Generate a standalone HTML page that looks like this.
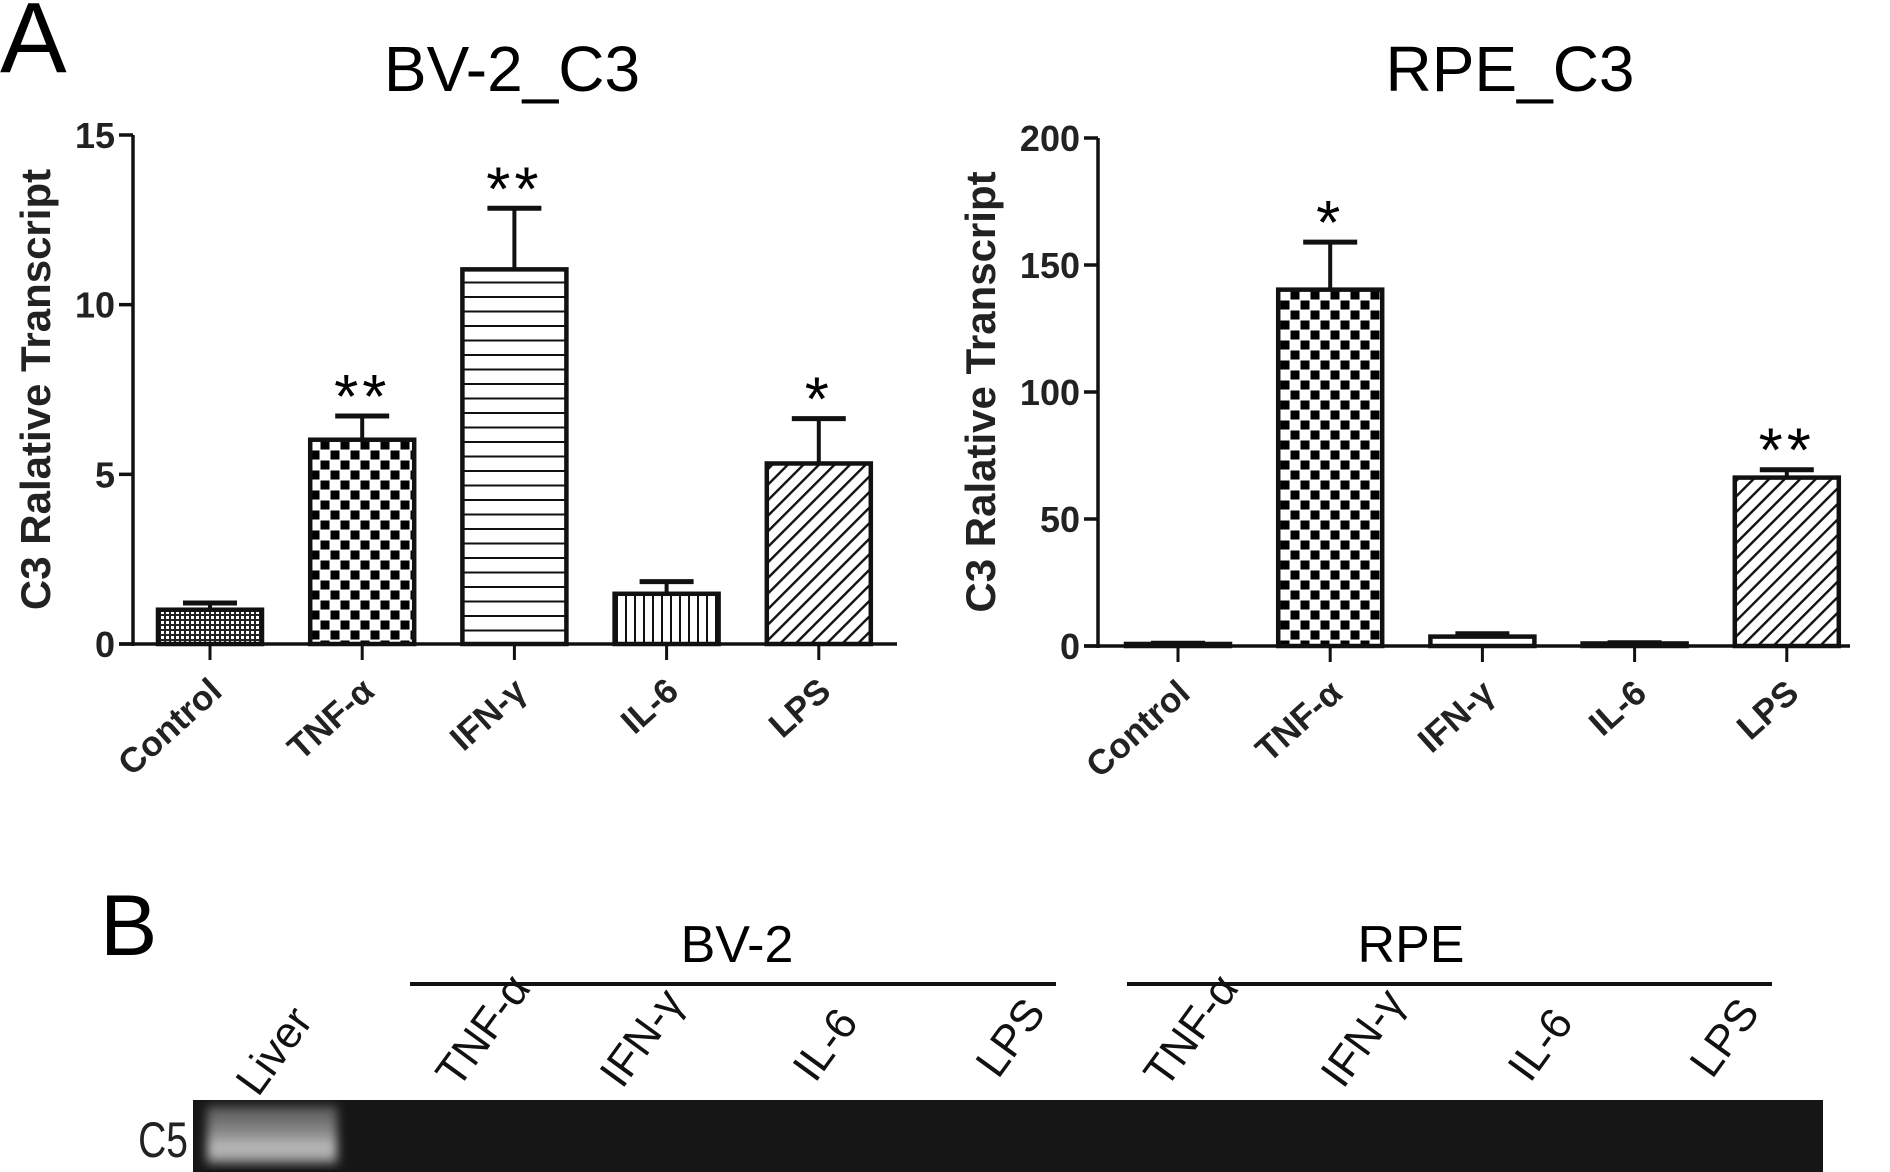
<!DOCTYPE html>
<html><head><meta charset="utf-8"><style>
html,body{margin:0;padding:0;background:#fff;}
svg{display:block;font-family:"Liberation Sans",Arial,sans-serif;}
</style></head><body>
<svg id="fig" width="1890" height="1172" viewBox="0 0 1890 1172" xmlns="http://www.w3.org/2000/svg">
<defs>
<pattern id="pFine" width="5" height="5" patternUnits="userSpaceOnUse"><rect width="5" height="5" fill="#222"/><rect x="1" y="1" width="3" height="3" fill="#fff"/></pattern>
<pattern id="pCheck" width="20" height="20" patternUnits="userSpaceOnUse"><rect width="20" height="20" fill="#fff"/><rect x="0.5" y="0.5" width="9" height="9" fill="#000"/><rect x="10.5" y="10.5" width="9" height="9" fill="#000"/></pattern>
<pattern id="pHoriz" width="10" height="14.5" patternUnits="userSpaceOnUse"><rect width="10" height="14.5" fill="#fff"/><rect y="6" width="10" height="2" fill="#111"/></pattern>
<pattern id="pVert" width="9" height="10" patternUnits="userSpaceOnUse"><rect width="9" height="10" fill="#fff"/><rect x="4" width="2" height="10" fill="#111"/></pattern>
<pattern id="pDiag" width="11" height="11" patternUnits="userSpaceOnUse" patternTransform="rotate(45)"><rect width="11" height="11" fill="#fff"/><rect x="4.5" width="2.4" height="11" fill="#111"/></pattern>
<linearGradient id="band" x1="0" y1="0" x2="0" y2="1"><stop offset="0" stop-color="#555"/><stop offset="0.45" stop-color="#888"/><stop offset="0.75" stop-color="#c0c0c0"/><stop offset="1" stop-color="#777"/></linearGradient>
<filter id="blur"><feGaussianBlur stdDeviation="5"/></filter>
</defs>
<text x="0" y="72" font-size="100">A</text>
<g id="chart1"></g>
<g id="chart2"></g>
<g>
<text x="100" y="955" font-size="86">B</text>
<text x="737" y="962" font-size="52" text-anchor="middle">BV-2</text>
<text x="1411" y="962" font-size="52" text-anchor="middle">RPE</text>
<rect x="410" y="982" width="646" height="4" fill="#111"/>
<rect x="1127" y="982" width="645" height="4" fill="#111"/>
<g id="lanes"></g>
<rect x="193" y="1100" width="1630" height="72" fill="#161616"/>
<rect x="207" y="1106" width="130" height="58" fill="url(#band)" filter="url(#blur)"/>
<text x="188" y="1157" font-size="50" text-anchor="end" fill="#222" transform="translate(188,1157) scale(0.78,1) translate(-188,-1157)">C5</text>
</g>
</svg>
<script>
const NS="http://www.w3.org/2000/svg";
const categories=["Control","TNF-α","IFN-γ","IL-6","LPS"];
const bv2Values=[1.01,6.02,11.04,1.48,5.32];
const bv2Errors=[0.2,0.7,1.8,0.36,1.32];
const bv2Stars=["","**","**","","*"];
const bv2Ticks=[0,5,10,15];
const rpeValues=[0.8,140.3,3.7,1.0,66.3];
const rpeErrors=[0.3,18.7,1.1,0.3,3.1];
const rpeStars=["","*","","","**"];
const rpeTicks=[0,50,100,150,200];
const lanes=["Liver","TNF-α","IFN-γ","IL-6","LPS","TNF-α","IFN-γ","IL-6","LPS"];
const fills=["url(#pFine)","url(#pCheck)","url(#pHoriz)","url(#pVert)","url(#pDiag)"];

function mk(tag,attrs,parent){const e=document.createElementNS(NS,tag);for(const k in attrs)e.setAttribute(k,attrs[k]);parent.appendChild(e);return e;}

function drawChart(g,cfg){
  const {x0,xEnd,yTop,yBot,max,values,errors,stars,ticks,title,titleX,first,ytOff}=cfg;
  const y=v=>yBot-(v/max)*(yBot-yTop);
  const step=152.2, bw=104;
  const xc=i=>first+i*step;
  const t=mk("text",{x:titleX,y:91,"font-size":64,"text-anchor":"middle"},g);t.textContent=title;
  
  
  const yt=mk("text",{x:0,y:0,"font-size":42,"font-weight":"bold","text-anchor":"middle",fill:"#222",transform:`translate(${x0-ytOff},${(yTop+yBot)/2}) rotate(-90)`},g);
  yt.textContent="C3 Ralative Transcript";
  
  
  values.forEach((v,i)=>{
    const cx=xc(i), top=y(v), et=y(v+errors[i]);
    const ln=mk("line",{x1:cx,x2:cx,y1:top,y2:et,stroke:"#111","stroke-width":4},g);
    
    
    const cap=mk("line",{x1:cx-27,x2:cx+27,y1:et,y2:et,stroke:"#111","stroke-width":5},g);
    
    
    const h=Math.max(yBot-top,2);
    const r=mk("rect",{x:cx-bw/2,y:yBot-h,width:bw,height:h,fill:fills[i],stroke:"#111","stroke-width":4.5},g);
    
    
    if(stars[i]){
      const s=mk("text",{x:cx,y:et+2,"font-size":62,"text-anchor":"middle","letter-spacing":"4"},g);s.textContent=stars[i];
      
      
    }
    const tk=mk("line",{x1:cx,x2:cx,y1:yBot,y2:yBot+16,stroke:"#111","stroke-width":3},g);
    
    
    const lb=mk("text",{x:0,y:0,"font-size":35,"font-weight":"bold","text-anchor":"end",fill:"#222",transform:`translate(${cx+14},${yBot+50}) rotate(-42)`},g);
    lb.textContent=categories[i];
    
    
  });
  const ax=mk("line",{x1:x0,x2:x0,y1:yTop,y2:yBot+2,stroke:"#111","stroke-width":3.5},g);
  
  
  const xa=mk("line",{x1:x0-14,x2:xEnd,y1:yBot,y2:yBot,stroke:"#111","stroke-width":3.5},g);
  
  
  ticks.forEach(v=>{
    const tl=mk("line",{x1:x0-14,x2:x0,y1:y(v),y2:y(v),stroke:"#111","stroke-width":3.5},g);
    
    
    const tx=mk("text",{x:x0-18,y:y(v)+13,"font-size":36,"font-weight":"bold","text-anchor":"end",fill:"#222"},g);tx.textContent=v;
    
    
  });
}
drawChart(document.getElementById("chart1"),{x0:133,xEnd:897,yTop:135,yBot:644,max:15,values:bv2Values,errors:bv2Errors,stars:bv2Stars,ticks:bv2Ticks,title:"BV-2_C3",titleX:512,first:210,ytOff:83});
drawChart(document.getElementById("chart2"),{x0:1098,xEnd:1850,yTop:138,yBot:646,max:200,values:rpeValues,errors:rpeErrors,stars:rpeStars,ticks:rpeTicks,title:"RPE_C3",titleX:1510,first:1178,ytOff:103});

const laneG=document.getElementById("lanes");
const laneX=[258,458,622,815,998,1166,1343,1530,1712];
const laneY=[1098,1090,1090,1084,1080,1090,1090,1084,1080];
lanes.forEach((l,i)=>{
  const t=mk("text",{x:0,y:0,"font-size":44,fill:"#111",transform:`translate(${laneX[i]},${laneY[i]}) rotate(-54)`},laneG);
  t.textContent=l;
  
  
});
</script>
</body></html>
